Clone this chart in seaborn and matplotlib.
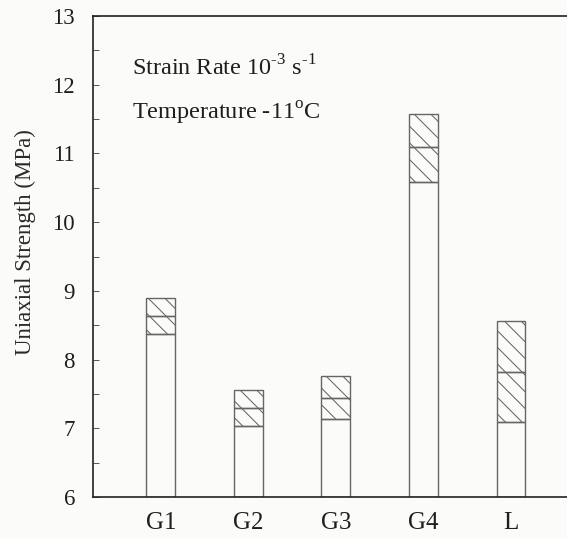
import matplotlib
matplotlib.use("Agg")
import matplotlib.pyplot as plt
from matplotlib.ticker import MultipleLocator
import seaborn as sns
import pandas as pd

# Uniaxial strength per ice type: range (low/high) and mean, MPa
ice_types = ["G1", "G2", "G3", "G4", "L"]
strength_low = [8.37, 7.03, 7.13, 10.59, 7.09]
strength_mean = [8.64, 7.29, 7.44, 11.09, 7.82]
strength_high = [8.90, 7.55, 7.76, 11.58, 8.56]

sns.set_theme(style="ticks")
plt.rcParams["font.family"] = ["Liberation Serif", "DejaVu Serif"]
plt.rcParams["mathtext.fontset"] = "custom"
plt.rcParams["mathtext.rm"] = "Liberation Serif"
plt.rcParams["hatch.color"] = "#7a7a7a"
plt.rcParams["hatch.linewidth"] = 0.75

df = pd.DataFrame({"type": ice_types, "low": strength_low,
                   "mean": strength_mean, "high": strength_high})

BASE = 6
bg = "#fbfbf9"
fig = plt.figure(figsize=(5.67, 5.38), dpi=100, facecolor=bg)
ax = fig.add_axes([93 / 567, 1 - 497 / 538, (567 - 93) / 567 + 0.01, (497 - 16) / 538])
ax.set_facecolor(bg)

edge = "#666666"
bar_w = 0.33
# open lower part of each bar: from the axis floor up to the low value
sns.barplot(data=df.assign(h=df["low"] - BASE), x="type", y="h", bottom=BASE,
            width=bar_w, color="white", edgecolor=edge, linewidth=1.0, ax=ax)
for p in ax.patches:
    p.set_facecolor("none")
# hatched ranges: low→mean and mean→high
ax.bar(range(len(df)), df["mean"] - df["low"], bottom=df["low"], width=bar_w,
       color="none", edgecolor=edge, linewidth=1.0, hatch="\\\\")
ax.bar(range(len(df)), df["high"] - df["mean"], bottom=df["mean"], width=bar_w,
       color="none", edgecolor=edge, linewidth=1.0, hatch="\\\\")

ax.set_ylim(6, 13)
ax.set_xlim(-0.775, 4.705)
ax.yaxis.set_major_locator(MultipleLocator(1))
ax.yaxis.set_minor_locator(MultipleLocator(0.5))
ax.tick_params(axis="y", which="both", direction="in", length=4, width=0.7,
               colors="#555555", labelcolor="#1e1e1e", labelsize=16.5, pad=13)
ax.tick_params(axis="x", length=0, labelsize=18, labelcolor="#1e1e1e", pad=11)

ax.set_xlabel("")
ax.set_ylabel("Uniaxial Strength (MPa)", fontsize=16.5, color="#2a2a2a")
ax.yaxis.set_label_coords(-0.118, 0.531)

for side in ["left", "bottom", "top"]:
    ax.spines[side].set_visible(True)
    ax.spines[side].set_color("#222222")
    ax.spines[side].set_linewidth(1.2)
ax.spines["right"].set_visible(False)

ax.text(0.082, 0.877, r"Strain Rate 10$^{\text{-3}}$ s$^{\text{-1}}$",
        transform=ax.transAxes, fontsize=17.5, color="#1e1e1e")
ax.text(0.082, 0.784, r"Temperature -11$^{\text{o}}$C",
        transform=ax.transAxes, fontsize=17.5, color="#1e1e1e")

fig.savefig("out.png", dpi=100, facecolor=fig.get_facecolor())
